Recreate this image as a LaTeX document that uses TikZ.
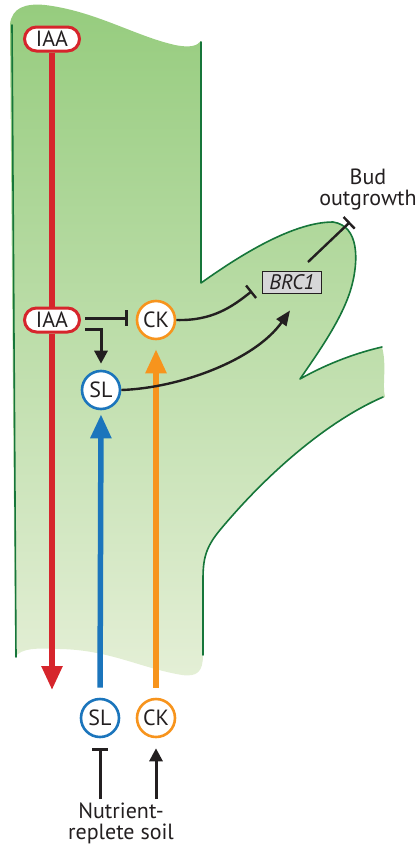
\documentclass[tikz,border=0pt]{standalone}
\usepackage{fontspec}
\setmainfont{PT Sans}
\usetikzlibrary{arrows.meta,shapes.misc,calc}
\definecolor{stemtop}{RGB}{150,204,126}
\definecolor{stembot}{RGB}{228,239,214}
\definecolor{outline}{RGB}{22,118,58}
\definecolor{iaared}{RGB}{214,37,44}
\definecolor{slblue}{RGB}{27,117,188}
\definecolor{ckorange}{RGB}{247,148,29}
\definecolor{ink}{RGB}{35,31,32}
\definecolor{boxgray}{RGB}{214,214,216}
\tikzset{
  lbl/.style={text=ink,font=\fontsize{22}{24}\selectfont},
  iaabox/.style={lbl,rounded rectangle,draw=iaared,fill=white,line width=3pt,
    minimum width=55pt,minimum height=24pt,inner sep=0pt},
  hormone/.style={lbl,circle,fill=white,line width=2.6pt,minimum size=38pt,inner sep=0pt},
  genebox/.style={draw=ink,fill=boxgray,line width=1pt,minimum width=59pt,minimum height=22pt,
    inner sep=0pt,text=ink,font=\fontsize{21}{24}\selectfont\itshape},
  caption/.style={text=ink,align=center,inner sep=0pt,font=\fontsize{22}{21}\selectfont},
  transport/.style={line width=5.5pt,-{Triangle[width=20pt,length=24pt]}},
  act/.style={ink,line width=3pt,-{Triangle[width=13pt,length=13pt]}},
  inh/.style={ink,line width=3pt,-{Bar[width=16pt]}},
  edge/.style={outline,line width=1.6pt,line cap=round,line join=round}
}
\begin{document}
\begin{tikzpicture}[x=1pt,y=-1pt]
\useasboundingbox (0,0) rectangle (416,846);

% stem and bud tissue
\shade[top color=stemtop,bottom color=stembot]
  (10,24) .. controls (12,8) and (25,3) .. (45,5)
  .. controls (95,11) and (135,36) .. (175,45)
  .. controls (190,48) and (197,46) .. (201,41)
  -- (201,283)
  .. controls (232,261) and (290,222) .. (333,222)
  .. controls (360,226) and (358,262) .. (352,285)
  .. controls (344,316) and (320,350) .. (300,379)
  .. controls (330,362) and (360,352) .. (382,347)
  .. controls (387,365) and (382,385) .. (385,397)
  .. controls (330,420) and (270,470) .. (220,530)
  .. controls (205,548) and (203,560) .. (203,580)
  -- (203,655)
  .. controls (203,672) and (197,677) .. (182,675)
  .. controls (140,668) and (110,650) .. (60,649)
  .. controls (35,648) and (22,648) .. (15,657)
  -- cycle;

% outlines
\draw[edge] (12,25) -- (16,657);
\draw[edge] (201,42) -- (201,283)
  .. controls (232,261) and (290,222) .. (333,222)
  .. controls (360,226) and (358,262) .. (352,285)
  .. controls (344,316) and (320,350) .. (300,379)
  .. controls (330,362) and (360,352) .. (382,347);
\draw[edge] (383,397)
  .. controls (330,420) and (270,470) .. (220,530)
  .. controls (205,548) and (203,560) .. (203,580)
  -- (203,655);

% hormones
\node[iaabox] (iaaA) at (52,39) {IAA};
\node[iaabox] (iaaB) at (52,320) {IAA};
\node[hormone,draw=ckorange] (ckA) at (156,320) {CK};
\node[hormone,draw=slblue] (slA) at (101,390) {SL};
\node[hormone,draw=slblue] (slB) at (100,718) {SL};
\node[hormone,draw=ckorange] (ckB) at (156,718) {CK};
\node[genebox] (brc) at (292,282) {BRC1};
\node[caption] (bud) at (368,190) {Bud\\outgrowth};
\node[caption] (soil) at (121,823) {Nutrient-\\replete soil};

\coordinate (iaaEnd) at (52,690);
\coordinate (slSoil) at (100,799);
\coordinate (ckSoil) at (156,799);
\coordinate (brcOut) at (308,262);
\coordinate (budBar) at (350,222);

% long-distance transport
\draw[iaared,line width=5.5pt] (iaaA.south) -- (iaaB.north);
\draw[iaared,transport] (iaaB.south) -- (iaaEnd);
\draw[slblue,transport,shorten <=10pt,shorten >=4pt] (slB.north) -- (slA.south);
\draw[ckorange,transport,shorten <=10pt,shorten >=9pt] (ckB.north) -- (ckA.south);

% local regulation
\draw[inh,shorten >=8pt] ($(iaaB.east)+(4,-2)$) -- ($(ckA.west)+(0,-2)$);
\draw[act,shorten >=6pt] ($(iaaB.east)+(4,9)$) -| (slA.north);
\draw[inh,line width=2.4pt] (ckA.east)
  .. controls (212,321) and (232,307) .. ($(brc.west)+(-10,9)$);
\draw[act,line width=2.4pt,-{Triangle[width=12pt,length=15pt]}] (slA.east)
  .. controls (180,388) and (255,360) .. ($(brc.south)+(-2,17)$);
\draw[inh,line width=2.4pt] (brcOut) -- (budBar);

% soil effects
\draw[inh,shorten >=10pt] (slSoil) -- (slB.south);
\draw[act,shorten >=10pt] (ckSoil) -- (ckB.south);
\end{tikzpicture}
\end{document}
